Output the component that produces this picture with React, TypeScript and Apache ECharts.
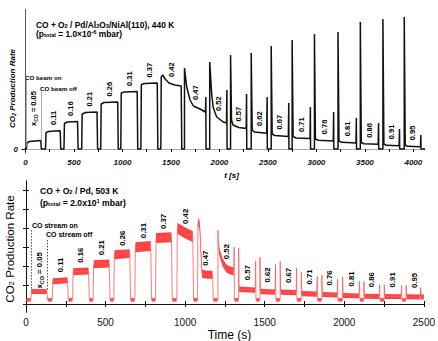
import React, { useEffect, useRef } from 'react';
import * as echarts from 'echarts';

const FONT = 'Liberation Sans, Arial, Helvetica, sans-serif';

const xcoValues = ['0.05', '0.11', '0.16', '0.21', '0.26', '0.31', '0.37', '0.42', '0.47', '0.52', '0.57', '0.62', '0.67', '0.71', '0.76', '0.81', '0.86', '0.91', '0.95'];

// ---------- top panel: Pd/Al2O3/NiAl(110), 440 K ----------
const topXLabels = [0, 500, 1000, 1500, 2000, 2500, 3000, 3500, 4000];
const topXTicks = [0, 250, 500, 750, 1000, 1250, 1500, 1750, 2000, 2250, 2500, 2750, 3000, 3250, 3500, 3750, 4000];
const topYLabels = [0];
const topOn = [10, 207, 397, 580, 776, 983, 1190, 1396, 1640, 1900, 2115, 2328, 2534, 2750, 2980, 3223, 3453, 3686, 3906];
const topOff = [162, 362, 541, 742, 955, 1156, 1363, 1610, 1860, 2077, 2280, 2492, 2715, 2938, 3178, 3412, 3641, 3857, 4077];
const topSpikeOn = [null, null, null, null, null, null, null, null, 81, 87, 94, 96, 103, 109, 115, 117, 127, 130, 132];
const topSpikeOff = [null, null, null, null, null, null, null, null, 52, 59, 55, 52, 46, 42, 37, 31, 26, 20, 14];
const topPlateaus: number[][][] = [
  [[15, 6], [40, 7.5], [100, 8], [158, 8.5]],
  [[212, 16.5], [240, 17.5], [300, 18], [358, 18.3]],
  [[402, 25.5], [430, 27], [537, 27.5]],
  [[585, 35], [620, 36.5], [738, 37]],
  [[781, 45], [810, 46.5], [951, 47]],
  [[988, 56], [1020, 57], [1152, 57.5]],
  [[1195, 64.5], [1230, 65.5], [1359, 66]],
  [[1400, 72], [1415, 74], [1440, 70], [1480, 66], [1540, 64], [1606, 63]],
  [[1663, 62], [1697, 49], [1732, 43], [1800, 40], [1856, 37]],
  [[1921, 54], [1937, 41], [1972, 32], [2040, 27], [2073, 26]],
  [[2125, 29], [2140, 24], [2200, 21.5], [2276, 20.5]],
  [[2338, 19], [2360, 17], [2488, 15.7]],
  [[2544, 15], [2570, 13.5], [2711, 12.5]],
  [[2760, 12.5], [2790, 11], [2934, 10.5]],
  [[2990, 10], [3020, 8.7], [3174, 8]],
  [[3233, 8], [3260, 6.7], [3408, 6]],
  [[3463, 6.5], [3490, 5.3], [3637, 4.8]],
  [[3696, 5], [3720, 3.7], [3853, 3.2]],
  [[3916, 4], [3940, 2.7], [4073, 2.2]],
];
const topBase = 0;
const topTraceStart = -10;
const topTraceEnd = 4120;
const topBeamLineTop = [69, 57];
const topBeamLineBottom = [2, 9];

// ---------- bottom panel: Pd, 503 K ----------
const botXLabels = [0, 500, 1000, 1500, 2000, 2500];
const botXTicks = [0, 250, 500, 750, 1000, 1250, 1500, 1750, 2000, 2250, 2500];
const botYTicks = [0, 1, 2, 3, 4, 5, 6];
const botOn = [31, 165, 293, 422, 552, 684, 814, 948, 1078, 1206, 1336, 1470, 1597, 1730, 1859, 1989, 2123, 2251, 2388];
const botOff = [134, 264, 396, 526, 655, 787, 917, 1051, 1175, 1308, 1443, 1568, 1700, 1830, 1958, 2096, 2222, 2360, null];
const botSpikeOn = [null, null, null, null, null, null, null, null, null, 3.9, 2.95, 2.46, 2.25, 1.68, 1.52, 1.45, 1.19, 1.02, 0.98];
const botSpikeOff = [null, null, null, null, null, null, null, null, null, 3.0, 2.28, 2.1, 1.9, 1.45, 1.3, 1.2, 1.02, 0.98, null];
const botPlateaus: number[][][] = [
  [[34, 0.66], [131, 0.66]],
  [[168, 1.2], [261, 1.25]],
  [[296, 1.7], [393, 1.74]],
  [[425, 2.1], [523, 2.14]],
  [[555, 2.6], [652, 2.66]],
  [[687, 3.0], [784, 3.06]],
  [[817, 3.48], [914, 3.52]],
  [[951, 4.0], [1000, 3.75], [1048, 3.56]],
  [[1080, 4.2], [1086, 4.35], [1092, 4.05], [1100, 2.6], [1106, 1.6], [1140, 1.54], [1172, 1.54]],
  [[1212, 2.86], [1227, 2.42], [1237, 2.16], [1258, 1.89], [1280, 1.78], [1305, 1.72]],
  [[1339, 0.78], [1440, 0.73]],
  [[1473, 0.66], [1565, 0.63]],
  [[1600, 0.63], [1697, 0.6]],
  [[1733, 0.55], [1827, 0.52]],
  [[1862, 0.5], [1955, 0.48]],
  [[1992, 0.45], [2093, 0.43]],
  [[2126, 0.41], [2219, 0.4]],
  [[2254, 0.4], [2357, 0.39]],
  [[2391, 0.38], [2478, 0.37], [2480, 0.86], [2482, 0.37], [2500, 0.37]],
];
const botNoise = [0.26, 0.32, 0.37, 0.42, 0.47, 0.53, 0.53, 0.58, 0.42, 0.42, 0.28, 0.28, 0.28, 0.28, 0.26, 0.26, 0.26, 0.26, 0.26];
const botBase = 0.22;
const botBaseNoise = 0.18;
const botStreamLineTop = [3.9, 3.38];
const botStreamLineBottom = [0.7, 0.75];

// ---------- helpers ----------
function buildTrace(on: number[], off: (number | null)[], spOn: (number | null)[], spOff: (number | null)[], plats: number[][][], base: number, start: number, end: number | null) {
  const pts: number[][] = [[start, base]];
  for (let i = 0; i < on.length; i++) {
    pts.push([on[i], base]);
    if (spOn[i] != null) pts.push([on[i], spOn[i] as number]);
    plats[i].forEach((p) => pts.push(p));
    const o = off[i];
    if (o != null) {
      if (spOff[i] != null) pts.push([o, spOff[i] as number]);
      pts.push([o + 2, base]);
    }
  }
  if (end != null) pts.push([end, base]);
  return pts;
}

function levelNear(pl: number[][], t: number) {
  let best = pl[0];
  pl.forEach((p) => {
    if (Math.abs(p[0] - t) < Math.abs(best[0] - t)) best = p;
  });
  return best[1];
}

function labelData(on: number[], off: (number | null)[], plats: number[][][], end: number) {
  return on.map((t, i) => {
    const o = off[i] != null ? (off[i] as number) : end;
    const mid = (t + o) / 2;
    return [mid, levelNear(plats[i], mid)];
  });
}

const topTrace = buildTrace(topOn, topOff, topSpikeOn, topSpikeOff, topPlateaus, topBase, topTraceStart, topTraceEnd);
const botTrace = buildTrace(botOn, botOff, botSpikeOn, botSpikeOff, botPlateaus, botBase, 0, null);

const botBands: { pts: number[][]; w: number }[] = [];
botBands.push({ pts: [[0, botBase], [botOn[0] - 1, botBase]], w: botBaseNoise });
botOn.forEach((t, i) => {
  botBands.push({ pts: botPlateaus[i], w: botNoise[i] });
  const o = botOff[i];
  if (o != null && i < botOn.length - 1) {
    botBands.push({ pts: [[o + 3, botBase], [botOn[i + 1] - 2, botBase]], w: botBaseNoise });
  }
});

const topLabelData = labelData(topOn, topOff, topPlateaus, 4100);
const botLabelData = labelData(botOn, botOff, botPlateaus, 2500);

function labelText(i: number) {
  if (i === 0) return '{n|x}{s|CO}{n| = ' + xcoValues[0] + '}';
  return '{n|' + xcoValues[i] + '}';
}

function makeLabelRender(size: number, gap: number, firstGap: number) {
  return (params: any, api: any) => {
    const i = params.dataIndex;
    const c = api.coord([api.value(0), api.value(1)]);
    return {
      type: 'text',
      x: c[0],
      y: c[1] - (i === 0 ? firstGap : gap),
      rotation: Math.PI / 2,
      style: {
        text: labelText(i),
        rich: {
          n: { fontSize: size, fontWeight: 'bold', fontFamily: FONT, fill: '#000', lineHeight: size + 2 },
          s: { fontSize: size * 0.68, fontWeight: 'bold', fontFamily: FONT, fill: '#000', lineHeight: size * 0.75, verticalAlign: 'bottom' },
        },
        align: 'left',
        verticalAlign: 'middle',
      },
    };
  };
}

const sub = (fs: number, w: string) => ({ fontSize: fs * 0.68, fontWeight: w, fontFamily: FONT, fill: '#000', lineHeight: fs * 0.7, verticalAlign: 'bottom' });
const sup = (fs: number, w: string) => ({ fontSize: fs * 0.68, fontWeight: w, fontFamily: FONT, fill: '#000', lineHeight: fs * 0.7, verticalAlign: 'top' });
const nrm = (fs: number, w: string, st = 'normal') => ({ fontSize: fs, fontWeight: w, fontStyle: st, fontFamily: FONT, fill: '#000', lineHeight: fs });

function richText(x: number, y: number, text: string, fs: number, w: string, opts: any = {}) {
  return {
    type: 'text',
    x,
    y,
    rotation: opts.rotation || 0,
    silent: true,
    style: {
      text,
      rich: { n: nrm(fs, w, opts.italic ? 'italic' : 'normal'), s: { ...sub(fs, w), fontStyle: opts.italic ? 'italic' : 'normal' }, p: sup(fs, w) },
      align: opts.align || 'left',
      verticalAlign: 'middle',
    },
  };
}

const plain = (v: number) => String(v);

const option: any = {
  animation: false,
  backgroundColor: '#fff',
  grid: [
    { left: 24, top: 10, width: 401, height: 143 },
    { left: 26, top: 181, width: 405, height: 131 },
  ],
  xAxis: [
    {
      gridIndex: 0, type: 'value', min: -15, max: 4120,
      axisLine: { lineStyle: { color: '#111', width: 1 } },
      axisTick: { customValues: topXTicks, length: 3, lineStyle: { color: '#111' } },
      axisLabel: { customValues: topXLabels, formatter: plain, fontSize: 8, fontWeight: 'bold', fontStyle: 'italic', fontFamily: FONT, color: '#111', margin: 5 },
      splitLine: { show: false },
    },
    {
      gridIndex: 0, type: 'value', position: 'top', min: -15, max: 4120,
      axisLine: { lineStyle: { color: '#aaa', width: 1 } },
      axisTick: { show: false }, axisLabel: { show: false }, splitLine: { show: false },
    },
    {
      gridIndex: 1, type: 'value', min: 0, max: 2500,
      axisLine: { lineStyle: { color: '#111', width: 1 } },
      axisTick: { customValues: botXTicks, inside: true, length: 3, lineStyle: { color: '#111' } },
      axisLabel: { customValues: botXLabels, formatter: plain, fontSize: 10, fontFamily: FONT, color: '#111', margin: 5 },
      splitLine: { show: false },
    },
    {
      gridIndex: 1, type: 'value', position: 'top', min: 0, max: 2500,
      axisLine: { lineStyle: { color: '#111', width: 1 } },
      axisTick: { customValues: botXTicks, inside: true, length: 3, lineStyle: { color: '#111' } },
      axisLabel: { show: false }, splitLine: { show: false },
    },
  ],
  yAxis: [
    {
      gridIndex: 0, type: 'value', min: -4, max: 139,
      axisLine: { show: true, lineStyle: { color: '#111', width: 1 } },
      axisTick: { customValues: topYLabels, length: 4, lineStyle: { color: '#111' } },
      axisLabel: { customValues: topYLabels, formatter: plain, fontSize: 8, fontWeight: 'bold', fontStyle: 'italic', fontFamily: FONT, color: '#111', margin: 6 },
      splitLine: { show: false },
    },
    {
      gridIndex: 0, type: 'value', position: 'right', min: -4, max: 139,
      axisLine: { show: true, lineStyle: { color: '#555', width: 1 } },
      axisTick: { show: false }, axisLabel: { show: false }, splitLine: { show: false },
    },
    {
      gridIndex: 1, type: 'value', min: -0.42, max: 6.49,
      axisLine: { show: true, lineStyle: { color: '#111', width: 1 } },
      axisTick: { customValues: botYTicks, inside: true, length: 3, lineStyle: { color: '#111' } },
      axisLabel: { show: false }, splitLine: { show: false },
    },
    {
      gridIndex: 1, type: 'value', position: 'right', min: -0.42, max: 6.49,
      axisLine: { show: true, lineStyle: { color: '#111', width: 1 } },
      axisTick: { customValues: botYTicks, inside: true, length: 3, lineStyle: { color: '#111' } },
      axisLabel: { show: false }, splitLine: { show: false },
    },
  ],
  series: [
    {
      type: 'line', xAxisIndex: 0, yAxisIndex: 0, data: topTrace, showSymbol: false, symbol: 'none',
      lineStyle: { color: '#111', width: 1.5 }, silent: true, z: 3,
      markLine: {
        silent: true, symbol: ['none', 'none'], label: { show: false },
        lineStyle: { color: '#999', width: 0.8, type: 'solid' },
        data: [
          [{ coord: [topOn[0], topBeamLineTop[0]] }, { coord: [topOn[0], topBeamLineBottom[0]] }],
          [{ coord: [topOff[0], topBeamLineTop[1]] }, { coord: [topOff[0], topBeamLineBottom[1]] }],
        ],
      },
    },
    {
      type: 'custom', xAxisIndex: 0, yAxisIndex: 0, data: topLabelData, silent: true, z: 5,
      renderItem: makeLabelRender(7.5, 6, 15),
    },
    {
      type: 'custom', xAxisIndex: 2, yAxisIndex: 2, data: botBands.map((b) => b.pts[0]), silent: true, z: 2,
      renderItem: (params: any, api: any) => {
        const b = botBands[params.dataIndex];
        const h = api.size([0, b.w])[1] / 2;
        const cs = b.pts.map((p) => api.coord(p));
        const upper = cs.map((c: number[]) => [c[0], c[1] - h]);
        const lower = cs.map((c: number[]) => [c[0], c[1] + h]).reverse();
        return { type: 'polygon', shape: { points: upper.concat(lower) }, style: { fill: '#ff1a1a', opacity: 0.82, stroke: null } };
      },
    },
    {
      type: 'line', xAxisIndex: 2, yAxisIndex: 2, data: botTrace, showSymbol: false, symbol: 'none',
      lineStyle: { color: '#ff5a5a', width: 0.8 }, silent: true, z: 3,
      markLine: {
        silent: true, symbol: ['none', 'none'], label: { show: false },
        lineStyle: { color: '#222', width: 0.8, type: [1.5, 1.5] },
        data: [
          [{ coord: [botOn[0], botStreamLineTop[0]] }, { coord: [botOn[0], botStreamLineBottom[0]] }],
          [{ coord: [botOff[0], botStreamLineTop[1]] }, { coord: [botOff[0], botStreamLineBottom[1]] }],
        ],
      },
    },
    {
      type: 'custom', xAxisIndex: 2, yAxisIndex: 2, data: botLabelData, silent: true, z: 5,
      renderItem: makeLabelRender(7.8, 9, 3),
    },
  ],
  graphic: [
    // top panel texts
    richText(36, 24.5, '{n|CO + O}{s|2}{n| / Pd/Al}{s|2}{n|O}{s|3}{n|/NiAl(110), 440 K}', 8.4, 'bold'),
    richText(36, 33.5, '{n|(p}{s|total}{n| = 1.0×10}{p|-6}{n| mbar)}', 8.4, 'bold'),
    richText(25, 77, '{n|CO beam on}', 6.2, 'bold'),
    richText(40, 88.5, '{n|CO beam off}', 6.2, 'bold'),
    richText(231.5, 175, '{n|t [s]}', 8, 'bold', { align: 'center', italic: true }),
    richText(12, 88.5, '{n|CO}{s|2}{n| Production Rate}', 8, 'bold', { align: 'center', italic: true, rotation: Math.PI / 2 }),
    // bottom panel texts
    richText(40, 191, '{n|CO + O}{s|2}{n| / Pd, 503 K}', 8.6, 'bold'),
    richText(40, 202.5, '{n|(p}{s|total}{n| = 2.0x10}{p|1}{n| mbar)}', 8.6, 'bold'),
    richText(32, 225, '{n|CO stream on}', 7, 'bold'),
    richText(46, 234.5, '{n|CO stream off}', 7, 'bold'),
    richText(229.5, 334.5, '{n|Time (s)}', 12, 'normal', { align: 'center' }),
    richText(10, 249, '{n|CO}{s|2}{n| Production Rate}', 11.5, 'normal', { align: 'center', rotation: Math.PI / 2 }),
  ],
};

export default function App() {
  const ref = useRef<HTMLDivElement>(null);
  useEffect(() => {
    if (!ref.current) return;
    const chart = echarts.init(ref.current, undefined, { renderer: 'svg' });
    chart.setOption(option);
    return () => chart.dispose();
  }, []);
  return <div ref={ref} style={{ position: 'fixed', left: 0, top: 0, width: 438, height: 341, background: '#fff' }} />;
}
